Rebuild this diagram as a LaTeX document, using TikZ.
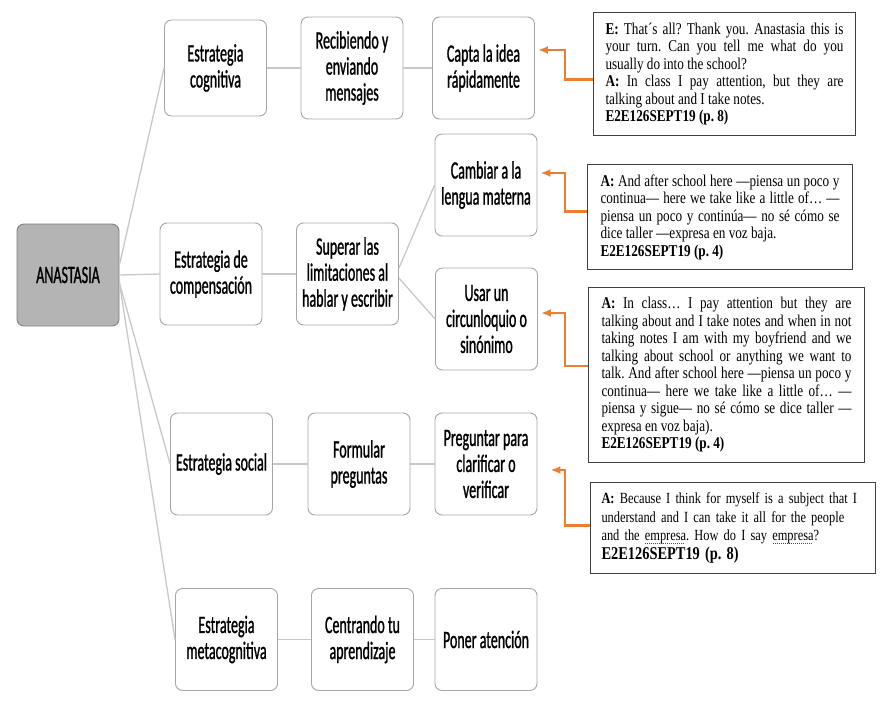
\documentclass[tikz,border=0pt]{standalone}
\usepackage{fontspec}
\usepackage{xcolor}
\usepackage{tikz}
\usetikzlibrary{arrows.meta,positioning}

\newfontfamily\boxfont[FakeStretch=0.56,FakeBold=1]{Carlito}
\newfontfamily\quotefont[FakeStretch=0.8]{Liberation Serif}
\definecolor{linegray}{HTML}{C8C8C8}
\definecolor{boxgray}{HTML}{A6A6A6}
\definecolor{anafill}{HTML}{B4B4B4}
\definecolor{noteorange}{HTML}{ED7D31}
\newcommand\spellwave[1]{\setbox0\hbox{#1}\rlap{\raisebox{-2.5pt}{\color{red}\hbox to \wd0{\leaders\hbox{\kern0.5pt\rule{1pt}{0.6pt}\kern0.5pt}\hfill}}}#1}
\hyphenpenalty=10000
\frenchspacing

\begin{document}
\begin{tikzpicture}[x=1pt, y=-1pt,
  box/.style={draw=boxgray, line width=0.9pt, rounded corners=7pt, align=center, inner sep=2pt,
              minimum width=102pt, minimum height=102pt, font=\boxfont\fontsize{25}{26}\selectfont},
  quote/.style={draw=black!75, line width=1pt, anchor=north west, inner xsep=12pt, inner ysep=4pt,
              align=justify, font=\quotefont\fontsize{16.5}{17.5}\selectfont},
  link/.style={draw=linegray, line width=1.3pt},
  note/.style={draw=noteorange, line width=2.2pt, -{Latex[length=10pt,width=8pt]}}]
\useasboundingbox (0,0) rectangle (886,701);

% tree
\node[box, fill=anafill, draw=black!50] (ana) at (68,275) {ANASTASIA};
\node[box, minimum height=96pt] (cog) at (215.5,68) {Estrategia\\cognitiva};
\node[box] (comp) at (211,274) {Estrategia de\\compensación};
\node[box] (soc) at (221.5,464) {Estrategia social};
\node[box] (meta) at (226.5,639.5) {Estrategia\\metacognitiva};
\node[box] (rec) at (352,68) {Recibiendo y\\enviando\\mensajes};
\node[box] (sup) at (347.5,274) {Superar las\\limitaciones al\\hablar y escribir};
\node[box] (form) at (359,464) {Formular\\preguntas};
\node[box] (cent) at (362.5,639.5) {Centrando tu\\aprendizaje};
\node[box] (capta) at (483.5,68) {Capta la idea\\rápidamente};
\node[box] (camb) at (486,185) {Cambiar a la\\lengua materna};
\node[box] (usar) at (486.5,319) {Usar un\\circunloquio o\\sinónimo};
\node[box] (preg) at (486,464) {Preguntar para\\clarificar o\\verificar};
\node[box] (poner) at (486,639.5) {Poner atención};

\draw[link] ([yshift=10pt]ana.east) -- (cog.west);
\draw[link] (ana.east) -- (comp.west);
\draw[link] ([yshift=-8pt]ana.east) -- (soc.west);
\draw[link] ([yshift=-8pt]ana.east) -- (meta.west);
\draw[link] ([yshift=6pt]sup.east) -- (camb.west);
\draw[link] ([yshift=-4pt]sup.east) -- (usar.west);
\foreach \a/\b in {cog/rec,rec/capta,comp/sup,soc/form,form/preg,meta/cent,cent/poner}
  \draw[link] (\a) -- (\b);

% interview excerpts
\node[quote, text width=238pt, minimum width=262pt, minimum height=123pt] (q1) at (593,12) {%
\textbf{E:} That´s all? Thank you. Anastasia this is\linebreak your turn. Can you tell me what do you\linebreak usually do into the school?\\
\textbf{A:} In class I pay attention, but they are\linebreak talking about and I take notes.\\
\textbf{E2E126SEPT19 (p. 8)}};
\node[quote, text width=239pt, minimum width=265pt, minimum height=105pt] (q2) at (587,164) {%
\textbf{A:} And after school here —piensa un poco y\linebreak continua— here we take like a little of… —\linebreak piensa un poco y continúa— no sé cómo se\linebreak dice taller —expresa en voz baja.\\
\textbf{E2E126SEPT19 (p. 4)}};
\node[quote, text width=250pt, minimum width=276pt, minimum height=175pt] (q3) at (588,287) {%
\textbf{A:} In class… I pay attention but they are\linebreak talking about and I take notes and when in not\linebreak taking notes I am with my boyfriend and we\linebreak talking about school or anything we want to\linebreak talk. And after school here —piensa un poco y\linebreak continua— here we take like a little of… —\linebreak piensa y sigue— no sé cómo se dice taller —\linebreak expresa en voz baja).\\
\textbf{E2E126SEPT19 (p. 4)}};
\node[quote, align=left, text width=263pt, inner xsep=11pt, minimum width=285pt, minimum height=91pt,
      font=\quotefont\fontsize{15.5}{18.5}\selectfont] (q4) at (590,482) {%
\textbf{A:} Because I think for myself is a subject that I\\
understand and I can take it all for the people\\
and the \spellwave{empresa}. How do I say \spellwave{empresa}?\\
{\fontsize{18}{21}\selectfont\textbf{E2E126SEPT19 (p. 8)}}};

\draw[note] ([yshift=-5.5pt]q1.west) -- ++(-28,0) |- ([yshift=18pt,xshift=3pt]capta.east);
\draw[note] ([yshift=5.5pt]q2.west) -- ++(-22,0) |- ([yshift=12pt,xshift=3pt]camb.east);
\draw[note] ([yshift=9pt]q3.west) -- ++(-23,0) |- ([yshift=6pt,xshift=3pt]usar.east);
\draw[note] ([yshift=2.5pt]q4.west) -- ++(-25,0) |- ([yshift=-6pt,xshift=13pt]preg.east);
\end{tikzpicture}
\end{document}
